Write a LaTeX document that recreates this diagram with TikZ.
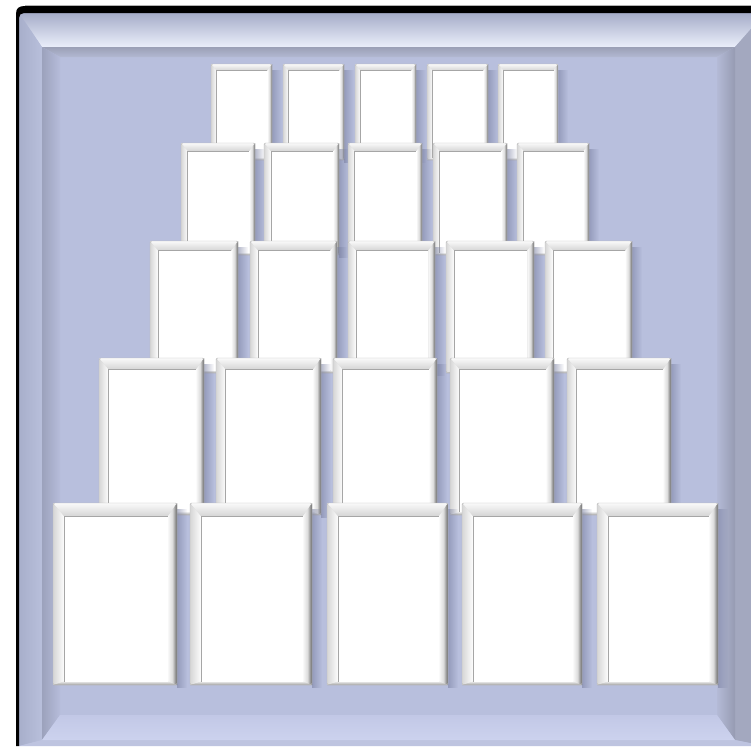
\documentclass[tikz,border=0pt]{standalone}
\usetikzlibrary{fadings}
\definecolor{facec}{RGB}{184,191,221}
\definecolor{shadowc}{RGB}{120,126,160}
\definecolor{tb1}{RGB}{250,250,250}
\definecolor{tb2}{RGB}{212,212,212}
\definecolor{tl1}{RGB}{214,214,214}
\definecolor{tl2}{RGB}{253,253,253}
\definecolor{tr1}{RGB}{250,250,250}
\definecolor{tr2}{RGB}{100,100,100}
\definecolor{tbo1}{RGB}{232,232,232}
\definecolor{tbo2}{RGB}{160,160,160}
\definecolor{ot1}{RGB}{166,173,201}
\definecolor{ot2}{RGB}{234,238,250}
\definecolor{ol1}{RGB}{168,175,203}
\definecolor{ol2}{RGB}{184,191,219}
\definecolor{orr}{RGB}{163,168,191}
\definecolor{obb}{RGB}{190,196,224}
\definecolor{it1}{RGB}{155,160,182}
\definecolor{it2}{RGB}{178,184,210}
\definecolor{il1}{RGB}{156,162,188}
\definecolor{il2}{RGB}{182,188,218}
\definecolor{ir1}{RGB}{180,186,214}
\definecolor{ir2}{RGB}{150,155,178}
\definecolor{ib1}{RGB}{194,200,230}
\definecolor{ib2}{RGB}{204,210,238}
\tikzfading[name=fadeR, left color=transparent!0, right color=transparent!100]
\newcommand\tile[4]{%
\pgfmathsetmacro\tw{#3-#1}%
\pgfmathsetmacro\xa{#1}\pgfmathsetmacro\xb{#3}%
\pgfmathsetmacro\ya{-#2}\pgfmathsetmacro\yb{-#4}%
\pgfmathsetmacro\bt{0.11*\tw}\pgfmathsetmacro\bl{0.09*\tw}%
\pgfmathsetmacro\br{0.075*\tw}\pgfmathsetmacro\bb{0.028*\tw}%
\pgfmathsetmacro\xi{\xa+\bl}\pgfmathsetmacro\xj{\xb-\br}%
\pgfmathsetmacro\yi{\ya-\bt}\pgfmathsetmacro\yj{\yb+\bb}%
\fill[shadowc, opacity=0.55, path fading=fadeR] ({\xb},{\ya-6}) rectangle ({\xb+10},{\yb-3});
\fill[tb2, rounded corners=1.5] (\xa,\ya) rectangle (\xb,\yb);
\shade[top color=tb1, bottom color=tb2] (\xa,\ya) -- (\xb,\ya) -- (\xj,\yi) -- (\xi,\yi) -- cycle;
\shade[left color=tl1, right color=tl2] (\xa,\ya) -- (\xi,\yi) -- (\xi,\yj) -- (\xa,\yb) -- cycle;
\shade[left color=tr1, right color=tr2, middle color=tr1!80!tr2] (\xb,\ya) -- (\xb,\yb) -- (\xj,\yj) -- (\xj,\yi) -- cycle;
\shade[top color=tbo1, bottom color=tbo2] (\xa,\yb) -- (\xb,\yb) -- (\xj,\yj) -- (\xi,\yj) -- cycle;
\fill[white] (\xi,\yi) rectangle (\xj,\yj);
\draw[gray!70, line width=0.5pt] (\xi,\yj) -- (\xi,\yi) -- (\xj,\yi);
\draw[gray!55, line width=0.4pt, rounded corners=1.5] (\xa,\ya) rectangle (\xb,\yb);
}
\begin{document}
\begin{tikzpicture}[x=1pt,y=1pt]
\useasboundingbox (0,0) rectangle (751,-747);
\fill[white] (0,0) rectangle (751,-747);
% frame base
\fill[facec] (19,-13) rectangle (765,-746);
% outer bevel bands
\shade[top color=ot1, bottom color=ot2] (19,-13) -- (765,-13) -- (735,-47) -- (42,-47) -- cycle;
\shade[left color=ol1, right color=ol2] (19,-13) -- (42,-47) -- (42,-740) -- (19,-746) -- cycle;
\fill[orr] (765,-13) -- (765,-746) -- (735,-740) -- (735,-47) -- cycle;
\fill[obb] (19,-746) -- (765,-746) -- (735,-740) -- (42,-740) -- cycle;
% inner bevel bands
\shade[top color=it1, bottom color=it2] (42,-47) -- (735,-47) -- (717,-57) -- (60,-57) -- cycle;
\shade[left color=il1, right color=il2] (42,-47) -- (60,-57) -- (60,-715) -- (42,-740) -- cycle;
\shade[left color=ir1, right color=ir2] (735,-47) -- (735,-740) -- (717,-715) -- (717,-57) -- cycle;
\shade[top color=ib1, bottom color=ib2] (42,-740) -- (735,-740) -- (717,-715) -- (60,-715) -- cycle;
% black border
\fill[black] (16,-746) -- (16,-14) .. controls (16,-8) and (19,-6) .. (25,-6) -- (751,-6) -- (751,-13) -- (24,-13) .. controls (21,-13) and (19,-15) .. (19,-18) -- (19,-746) -- cycle;
\draw[gray!60, line width=0.6pt] (25,-5.5) -- (751,-5.5);
% tiles, back to front
\foreach \a/\b in {211/272, 283/344, 355/416, 427/488, 498/558} {\tile{\a}{64}{\b}{160}}
\foreach \a/\b in {181/255, 264/339, 348/422, 433/507, 517/589} {\tile{\a}{143}{\b}{255}}
\foreach \a/\b in {150/238, 250/337, 348/435, 446/534, 545/632} {\tile{\a}{241}{\b}{373}}
\foreach \a/\b in {99/204, 216/321, 333/437, 450/554, 567/671} {\tile{\a}{358}{\b}{515}}
\foreach \a/\b in {53/177, 190/312, 327/448, 462/582, 597/718} {\tile{\a}{503}{\b}{685}}
\end{tikzpicture}
\end{document}
